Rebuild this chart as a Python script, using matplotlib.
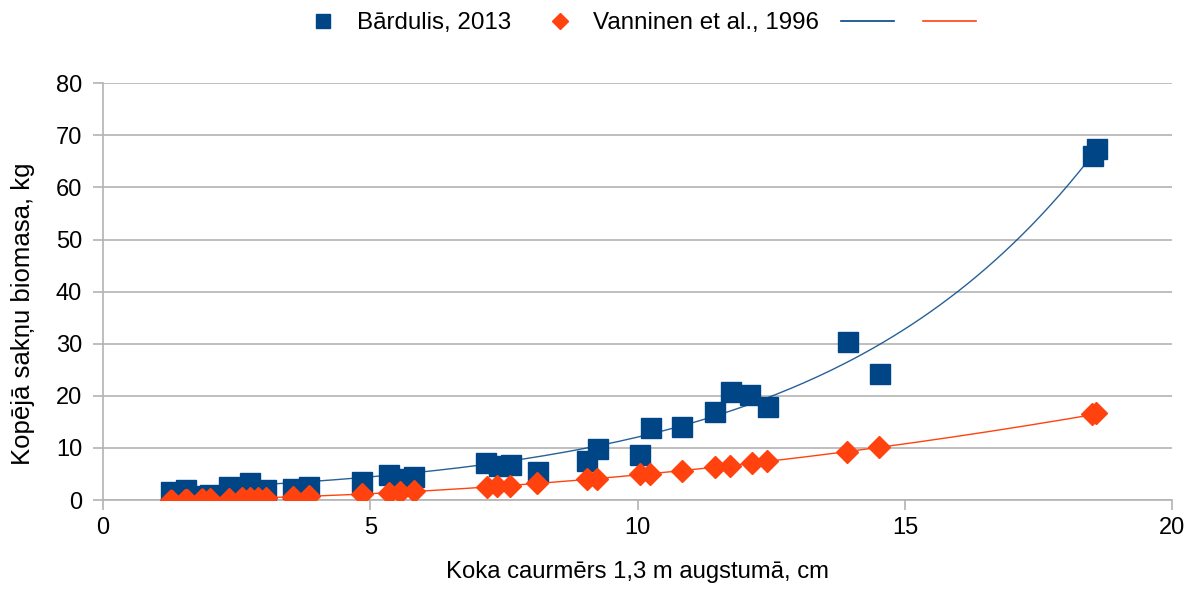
import numpy as np
import matplotlib
matplotlib.use("Agg")
import matplotlib.pyplot as plt
from matplotlib.lines import Line2D

plt.rcParams['font.family'] = ['Liberation Sans', 'DejaVu Sans']

# Bārdulis, 2013
bx = [1.27, 1.55, 1.85, 2.0, 2.36, 2.75, 3.05, 3.55, 3.85, 4.85, 5.35, 5.55, 5.82,
      7.17, 7.4, 7.63, 8.14, 9.05, 9.25, 10.05, 10.25, 10.83, 11.45, 11.75, 12.1, 12.44,
      13.94, 14.54, 18.52, 18.6]
by = [1.5, 1.9, 0.8, 0.9, 2.5, 3.3, 1.9, 2.1, 2.5, 3.5, 4.8, 4.0, 4.4,
      7.1, 6.6, 6.7, 5.4, 7.5, 9.8, 8.6, 13.8, 14.0, 16.9, 20.7, 20.2, 17.9,
      30.3, 24.2, 66.0, 67.4]

# Vanninen et al., 1996
vx = [1.27, 1.55, 1.85, 2.0, 2.36, 2.6, 2.75, 2.9, 3.05, 3.55, 3.85, 4.85, 5.35,
      5.55, 5.82, 7.18, 7.37, 7.61, 8.12, 9.05, 9.24, 10.05, 10.23, 10.83, 11.45, 11.73,
      12.14, 12.42, 13.92, 14.52, 18.5, 18.58]
vy = [0.08, 0.12, 0.17, 0.2, 0.27, 0.33, 0.37, 0.41, 0.45, 0.61, 0.72, 1.15, 1.4,
      1.5, 1.65, 2.5, 2.6, 2.75, 3.2, 4.0, 4.1, 4.9, 5.05, 5.6, 6.3, 6.6,
      7.1, 7.4, 9.2, 10.1, 16.5, 16.7]

blue = '#004586'
orange = '#ff420e'

bx = np.array(bx); by = np.array(by)
vx = np.array(vx); vy = np.array(vy)

# trend lines: exponential for blue (weighted so big trees count), power for orange
bk, bc = np.polyfit(bx, np.log(by), 1, w=by)
vk, vc = np.polyfit(np.log(vx), np.log(vy), 1)
tx = np.linspace(bx.min(), bx.max(), 200)
tv = np.linspace(vx.min(), vx.max(), 200)

fig = plt.figure(figsize=(11.9, 5.9), dpi=100)
ax = fig.add_axes([0.0866, 0.1525, 0.8984, 0.7065])

ax.plot(bx, by, 's', color=blue, markersize=15, linestyle='none', zorder=3)
ax.plot(vx, vy, 'D', color=orange, markersize=11, linestyle='none', zorder=4)
ax.plot(tx, np.exp(bc) * np.exp(bk * tx), color=blue, lw=1, alpha=0.85, zorder=5)
ax.plot(tv, np.exp(vc) * tv ** vk, color=orange, lw=1, zorder=5)

ax.set_xlim(0, 20)
ax.set_ylim(0, 80)
ax.set_xticks([0, 5, 10, 15, 20])
ax.set_yticks(range(0, 81, 10))
ax.yaxis.grid(True, color='#b3b3b3', lw=1.2)
ax.set_axisbelow(True)
for s in ['top', 'right']:
    ax.spines[s].set_visible(False)
for s in ['left', 'bottom']:
    ax.spines[s].set_color('#b3b3b3')
    ax.spines[s].set_linewidth(1.2)
ax.tick_params(axis='both', colors='#b3b3b3', length=7, width=1.2, labelsize=17,
               labelcolor='black')
ax.tick_params(axis='x', pad=5)
ax.tick_params(axis='y', pad=8)

ax.set_xlabel('Koka caurmērs 1,3 m augstumā, cm', fontsize=17.2, labelpad=16)
ax.set_ylabel('Kopējā sakņu biomasa, kg', fontsize=18.5, labelpad=12)
ax.yaxis.set_label_coords(-0.064, 0.448)

handles = [
    Line2D([], [], marker='s', color=blue, linestyle='none', markersize=10),
    Line2D([], [], marker='D', color=orange, linestyle='none', markersize=8),
    Line2D([], [], color=blue, lw=1.2),
    Line2D([], [], color=orange, lw=1.2),
]
labels = ['Bārdulis, 2013', 'Vanninen et al., 1996', '', '']
fig.legend(handles, labels, loc='center', bbox_to_anchor=(0.538, 0.961),
           ncol=4, frameon=False, fontsize=17.4, handlelength=2.2,
           columnspacing=0.9, handletextpad=0.3)

fig.savefig('out.png', dpi=100, facecolor='white')
